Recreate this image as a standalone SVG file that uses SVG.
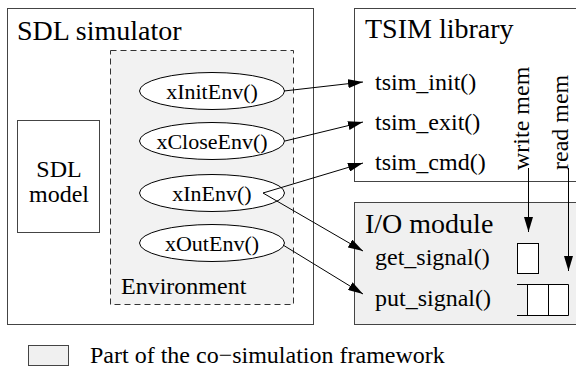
<svg xmlns="http://www.w3.org/2000/svg" width="576" height="372" viewBox="0 0 576 372" font-family="'Liberation Serif', 'DejaVu Serif', serif">
<style>
  text { font-family: 'Liberation Serif', 'DejaVu Serif', serif; fill: #000; }
  .title { font-size: 28px; }
  .lbl { font-size: 24px; }
  .fn { font-size: 22px; text-anchor: middle; }
  .box { fill: #fff; stroke: #444; stroke-width: 1; }
  .frame { fill: #f0f0f0; stroke: #444; stroke-width: 1; }
  .env { fill: #f2f2f2; stroke: #333; stroke-width: 1; stroke-dasharray: 6 4; }
  .ell { fill: #fff; stroke: #000; stroke-width: 1; }
  .conn { fill: none; stroke: #000; stroke-width: 1; marker-end: url(#arr); }
  .thin { fill: none; stroke: #000; stroke-width: 1; }
</style>
<defs>
  <marker id="arr" markerWidth="15" markerHeight="9" refX="15" refY="4.5" orient="auto" markerUnits="userSpaceOnUse">
    <path d="M0,0 L15,4.5 L0,9 z" fill="#000"/>
  </marker>
</defs>
<rect width="576" height="372" fill="#fff"/>

<g id="sdl-simulator">
  <rect class="box" x="7.5" y="8.5" width="306" height="316"/>
  <text class="title" x="17" y="40">SDL simulator</text>
</g>
<g id="environment">
  <rect class="env" x="110.5" y="50.5" width="183" height="254"/>
  <text class="lbl" x="121" y="294">Environment</text>
</g>
<g id="sdl-model">
  <rect class="box" x="17.5" y="120.5" width="82" height="112"/>
  <text class="lbl" x="59" y="177" text-anchor="middle">SDL</text>
  <text class="lbl" x="59" y="202" text-anchor="middle">model</text>
</g>
<g id="xInitEnv">
  <ellipse class="ell" cx="212" cy="91" rx="72.5" ry="18.5"/>
  <text class="fn" x="212" y="99">xInitEnv()</text>
</g>
<g id="xCloseEnv">
  <ellipse class="ell" cx="212" cy="141" rx="72.5" ry="18.5"/>
  <text class="fn" x="212" y="149">xCloseEnv()</text>
</g>
<g id="xInEnv">
  <ellipse class="ell" cx="212" cy="193" rx="72.5" ry="18.5"/>
  <text class="fn" x="212" y="201">xInEnv()</text>
</g>
<g id="xOutEnv">
  <ellipse class="ell" cx="212" cy="243" rx="72.5" ry="18.5"/>
  <text class="fn" x="212" y="251">xOutEnv()</text>
</g>

<g id="tsim-library">
  <rect class="box" x="354.5" y="8.5" width="240" height="173"/>
  <text class="title" x="365" y="38">TSIM library</text>
  <text class="lbl" x="375" y="90">tsim_init()</text>
  <text class="lbl" x="375" y="130">tsim_exit()</text>
  <text class="lbl" x="375" y="170">tsim_cmd()</text>
</g>
<g id="io-module">
  <rect class="frame" x="354.5" y="202.5" width="240" height="122"/>
  <text class="title" x="365" y="233">I/O module</text>
  <text class="lbl" x="375" y="265">get_signal()</text>
  <text class="lbl" x="375" y="306">put_signal()</text>
  <rect x="517.5" y="243.5" width="21" height="30" fill="#fff" stroke="#000"/>
  <rect x="527.5" y="284.5" width="41" height="31" fill="#fff" stroke="none"/>
  <path class="thin" d="M517,284.5 H568.5 M517,315.5 H568.5 M527.5,284.5 V315.5 M548.5,284.5 V315.5 M568.5,284.5 V315.5"/>
</g>

<g id="connectors">
  <path class="conn" d="M284,91 L363,82"/>
  <path class="conn" d="M285,141 L363,122"/>
  <path class="conn" d="M263,193 L363,163"/>
  <path class="conn" d="M263,193 L363,251"/>
  <path class="conn" d="M283,245 L363,294"/>
  <path class="conn" d="M528.5,168 L528.5,232"/>
  <path class="conn" d="M568.5,168 L568.5,271"/>
  <text class="lbl" transform="translate(529,170) rotate(-90)">write mem</text>
  <text class="lbl" transform="translate(568,170) rotate(-90)">read mem</text>
</g>

<g id="legend">
  <rect class="frame" x="28.5" y="345.5" width="40" height="20"/>
  <text class="lbl" x="90" y="363">Part of the co−simulation framework</text>
</g>
</svg>
